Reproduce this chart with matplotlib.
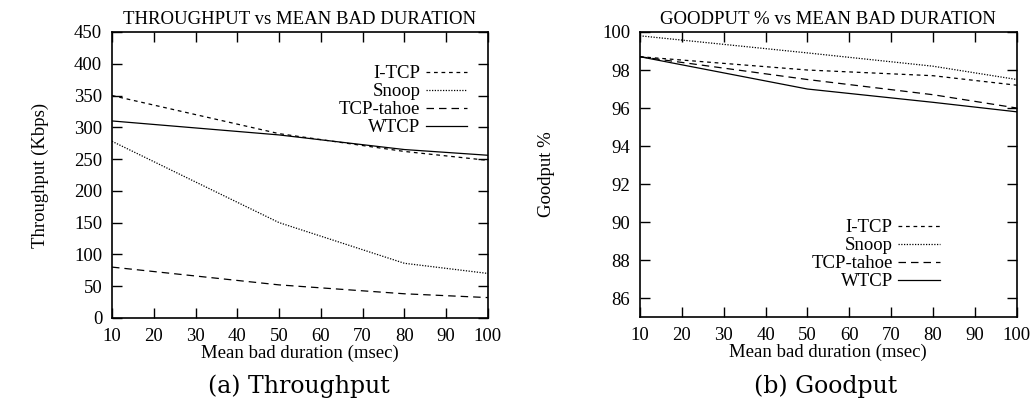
import matplotlib.pyplot as plt

# data
x = [10, 50, 80, 100]
thr_itcp = [350, 290, 262, 248]
thr_snoop = [278, 150, 86, 70]
thr_tahoe = [80, 52, 38, 32]
thr_wtcp = [310, 288, 265, 256]

gp_itcp = [98.7, 98.0, 97.7, 97.2]
gp_snoop = [99.8, 98.9, 98.2, 97.5]
gp_tahoe = [98.7, 97.5, 96.7, 96.0]
gp_wtcp = [98.7, 97.0, 96.3, 95.8]

labels = ['I-TCP', 'Snoop', 'TCP-tahoe', 'WTCP']
styles = [(0, (3, 3)), (0, (1, 1.2)), (0, (6, 4)), '-']

plt.rcParams['font.family'] = 'Liberation Serif'
fs = 13.5
fig = plt.figure(figsize=(10.32, 4.05), dpi=100)
ax1 = fig.add_axes([0.1085, 0.215, 0.3643, 0.706])
ax2 = fig.add_axes([0.620, 0.217, 0.3653, 0.704])

for ys, lab, ls in zip([thr_itcp, thr_snoop, thr_tahoe, thr_wtcp], labels, styles):
    ax1.plot(x, ys, color='black', linestyle=ls, linewidth=0.9, label=lab)
for ys, lab, ls in zip([gp_itcp, gp_snoop, gp_tahoe, gp_wtcp], labels, styles):
    ax2.plot(x, ys, color='black', linestyle=ls, linewidth=0.9, label=lab)

ax1.set_xlim(10, 100)
ax1.set_ylim(0, 450)
ax1.set_yticks(range(0, 451, 50))
ax1.set_title('THROUGHPUT vs MEAN BAD DURATION', fontsize=fs, pad=6)
ax1.set_ylabel('Throughput (Kbps)', fontsize=fs, labelpad=18)

ax2.set_xlim(10, 100)
ax2.set_ylim(85, 100)
ax2.set_yticks(range(86, 101, 2))
ax2.set_title('GOODPUT % vs MEAN BAD DURATION', fontsize=fs, pad=6)
ax2.set_ylabel('Goodput %', fontsize=fs, labelpad=34)

for ax in (ax1, ax2):
    ax.set_xticks(range(10, 101, 10))
    ax.set_xlabel('Mean bad duration (msec)', fontsize=fs, labelpad=0)
    ax.tick_params(direction='in', top=True, right=True, labelsize=fs, length=7, width=1)
    ax.tick_params(axis='x', pad=7)
    ax.tick_params(axis='y', pad=7)
    for s in ax.spines.values():
        s.set_linewidth(1.2)

ax1.legend(loc='upper right', frameon=False, markerfirst=False, fontsize=fs,
           handlelength=2.2, labelspacing=0.05, bbox_to_anchor=(0.98, 0.93),
           borderaxespad=0.3, handletextpad=0.3)
ax2.legend(loc='lower right', frameon=False, markerfirst=False, fontsize=fs,
           handlelength=2.2, labelspacing=0.05, bbox_to_anchor=(0.84, 0.035),
           handletextpad=0.3)

fig.text(0.29, 0.03, '(a) Throughput', ha='center', fontsize=17, family='DejaVu Serif')
fig.text(0.80, 0.03, '(b) Goodput', ha='center', fontsize=17, family='DejaVu Serif')

plt.savefig('out.png')
